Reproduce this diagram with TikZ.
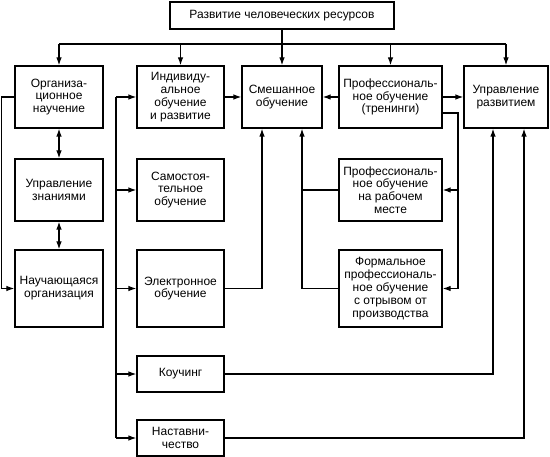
\documentclass[tikz,border=0pt]{standalone}
\usepackage{fontspec}
\setmainfont{Liberation Sans}
\usetikzlibrary{arrows.meta}
\begin{document}
\begin{tikzpicture}[x=1bp,y=-1bp,
  box/.style={draw,line width=1.2bp,inner sep=0pt,align=center,
    font=\fontsize{12bp}{12.8bp}\selectfont},
  link/.style={line width=1.2bp},
  arr/.style={link,-{Latex[length=8bp,width=5.5bp]}},
  darr/.style={link,{Latex[length=8bp,width=5.5bp]}-{Latex[length=8bp,width=5.5bp]}}]
\useasboundingbox (0,0) rectangle (550,457);
% boxes
\node[box,minimum width=224bp,minimum height=27bp] (top) at (282,15.5) {Развитие человеческих ресурсов};
\node[box,minimum width=88bp,minimum height=62bp] (org) at (59,97) {Организа-\\ционное\\научение};
\node[box,minimum width=87bp,minimum height=62bp] (ind) at (180.5,97) {Индивиду-\\альное\\обучение\\и развитие};
\node[box,minimum width=80bp,minimum height=62bp] (mix) at (282,97) {Смешанное\\обучение};
\node[box,minimum width=103bp,minimum height=62bp] (prof) at (390.5,97) {Профессиональ-\\ное обучение\\(тренинги)};
\node[box,minimum width=84bp,minimum height=62bp] (upr) at (506,97) {Управление\\развитием};
\node[box,minimum width=88bp,minimum height=62bp] (zn) at (59,190) {Управление\\знаниями};
\node[box,minimum width=87bp,minimum height=62bp] (sam) at (180.5,190) {Самостоя-\\тельное\\обучение};
\node[box,minimum width=103bp,minimum height=62bp] (pwork) at (390.5,190) {Профессиональ-\\ное обучение\\на рабочем\\месте};
\node[box,minimum width=88bp,minimum height=77bp] (learn) at (59,288.5) {Научающаяся\\организация};
\node[box,minimum width=87bp,minimum height=77bp] (el) at (180.5,288.5) {Электронное\\обучение};
\node[box,minimum width=103bp,minimum height=77bp] (form) at (390.5,288.5) {Формальное\\профессиональ-\\ное обучение\\с отрывом от\\производства};
\node[box,minimum width=87bp,minimum height=36bp] (coach) at (180.5,374) {Коучинг};
\node[box,minimum width=87bp,minimum height=36bp] (ment) at (180.5,438) {Наставни-\\чество};
% helper coordinates
\coordinate (bus) at (0,44);
\coordinate (c2) at (116,0);
\coordinate (rx) at (458,0);
\coordinate (mixL) at ([xshift=-20bp]mix.south);
\coordinate (mixR) at ([xshift=20bp]mix.south);
\coordinate (uprL) at ([xshift=-13bp]upr.south);
\coordinate (uprR) at ([xshift=18bp]upr.south);
\coordinate (profR) at ([yshift=-16bp]prof.east);
% top distribution
\draw[arr] (top) -- (mix);
\draw[link] (org.north |- bus) -- (upr.north |- bus);
\draw[arr] (org.north |- bus) -- (org.north);
\draw[arr] (ind.north |- bus) -- (ind.north);
\draw[arr] (prof.north |- bus) -- (prof.north);
\draw[arr] (upr.north |- bus) -- (upr.north);
% row 1
\draw[arr] (ind) -- (mix);
\draw[arr] (prof) -- (mix);
\draw[arr] (prof) -- (upr);
% left column
\draw[darr] (org) -- (zn);
\draw[darr] (zn) -- (learn);
\draw[arr] (org.west) -- ++(-13,0) |- (learn.west);
% second column feed
\draw[link] (ind.west -| c2) -- (ment.west -| c2);
\draw[arr] (ind.west -| c2) -- (ind.west);
\draw[arr] (sam.west -| c2) -- (sam.west);
\draw[arr] (el.west -| c2) -- (el.west);
\draw[arr] (coach.west -| c2) -- (coach.west);
\draw[arr] (ment.west -| c2) -- (ment.west);
% into mixed
\draw[arr] (el.east) -| (mixL);
\draw[arr] (form.west) -| (mixR);
\draw[link] (pwork.west) -- (pwork.west -| mixR);
% from trainings
\draw[arr] (profR) -| (rx |- form.east) -- (form.east);
\draw[arr] (rx |- pwork.east) -- (pwork.east);
% into development management
\draw[arr] (coach.east) -| (uprL);
\draw[arr] (ment.east) -| (uprR);
\end{tikzpicture}
\end{document}
